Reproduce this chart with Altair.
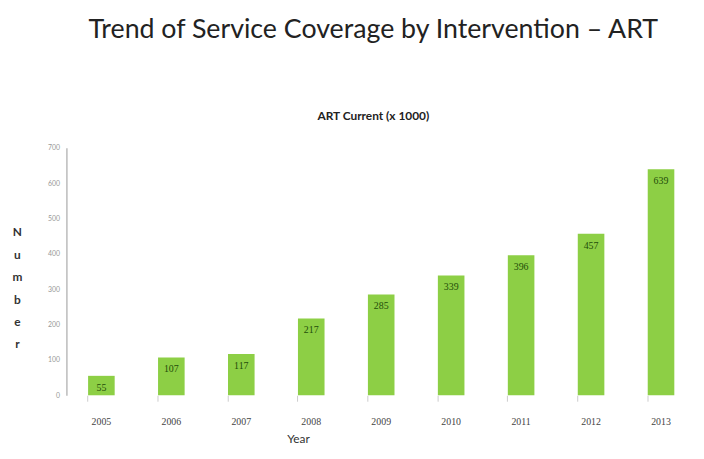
import altair as alt
import pandas as pd

years = ["2005", "2006", "2007", "2008", "2009", "2010", "2011", "2012", "2013"]
art_current = [55, 107, 117, 217, 285, 339, 396, 457, 639]
y_ticks = [0, 100, 200, 300, 400, 500, 600, 700]

df = pd.DataFrame({"Year": years, "ART": art_current})

base = alt.Chart(df).encode(
    x=alt.X(
        "Year:N",
        sort=years,
        scale=alt.Scale(paddingInner=0.62, paddingOuter=0.31),
        axis=alt.Axis(
            title="Year",
            titleFont="Lato",
            titleFontSize=12,
            titleFontWeight="normal",
            titleColor="#333333",
            titleX=234,
            titleY=44,
            titleBaseline="middle",
            labelAngle=0,
            labelFont="Liberation Serif",
            labelFontSize=10,
            labelColor="#444444",
            labelPadding=16,
            domain=False,
            ticks=True,
            tickColor="#cccccc",
            tickSize=6,
            bandPosition=0,
        ),
    ),
    y=alt.Y(
        "ART:Q",
        scale=alt.Scale(domain=[0, 700], nice=False),
        axis=alt.Axis(
            title=["N", "u", "m", "b", "e", "r"],
            titleAngle=0,
            titleFont="Lato",
            titleFontSize=12,
            titleFontWeight="bold",
            titleColor="#333333",
            titleLineHeight=22.6,
            titleAlign="center",
            titleBaseline="top",
            titleX=-50,
            titleY=80,
            values=y_ticks,
            labelFont="Lato",
            labelFontSize=7,
            labelColor="#999999",
            labelPadding=7,
            ticks=False,
            grid=False,
            domain=True,
            domainColor="#bbbbbb",
            domainWidth=1.5,
        ),
    ),
)

bars = base.mark_bar(color="#8DCF45")
labels = base.mark_text(
    dy=12, baseline="middle", align="center", fontSize=10, font="Liberation Serif",
    color="#1f4d0a"
).encode(text="ART:Q")

chart = (
    (bars + labels)
    .properties(
        width=636,
        height=250,
        padding={"left": 59, "top": 139, "right": 0, "bottom": 48},
        autosize=alt.AutoSizeParams(type="none"),
        title=alt.TitleParams(
            text="Trend of Service Coverage by Intervention \u2013 ART",
            subtitle="ART Current (x 1000)",
            anchor="middle",
            frame="group",
            dx=-8,
            font="Lato",
            fontSize=27,
            fontWeight="normal",
            color="#222222",
            subtitleFont="Lato",
            subtitleFontSize=12,
            subtitleFontWeight="bold",
            subtitleColor="#222222",
            subtitlePadding=68,
            offset=21,
        ),
    )
    .configure_view(stroke=None)
)

chart.save("out.html", embed_options={"renderer": "svg", "actions": False})
